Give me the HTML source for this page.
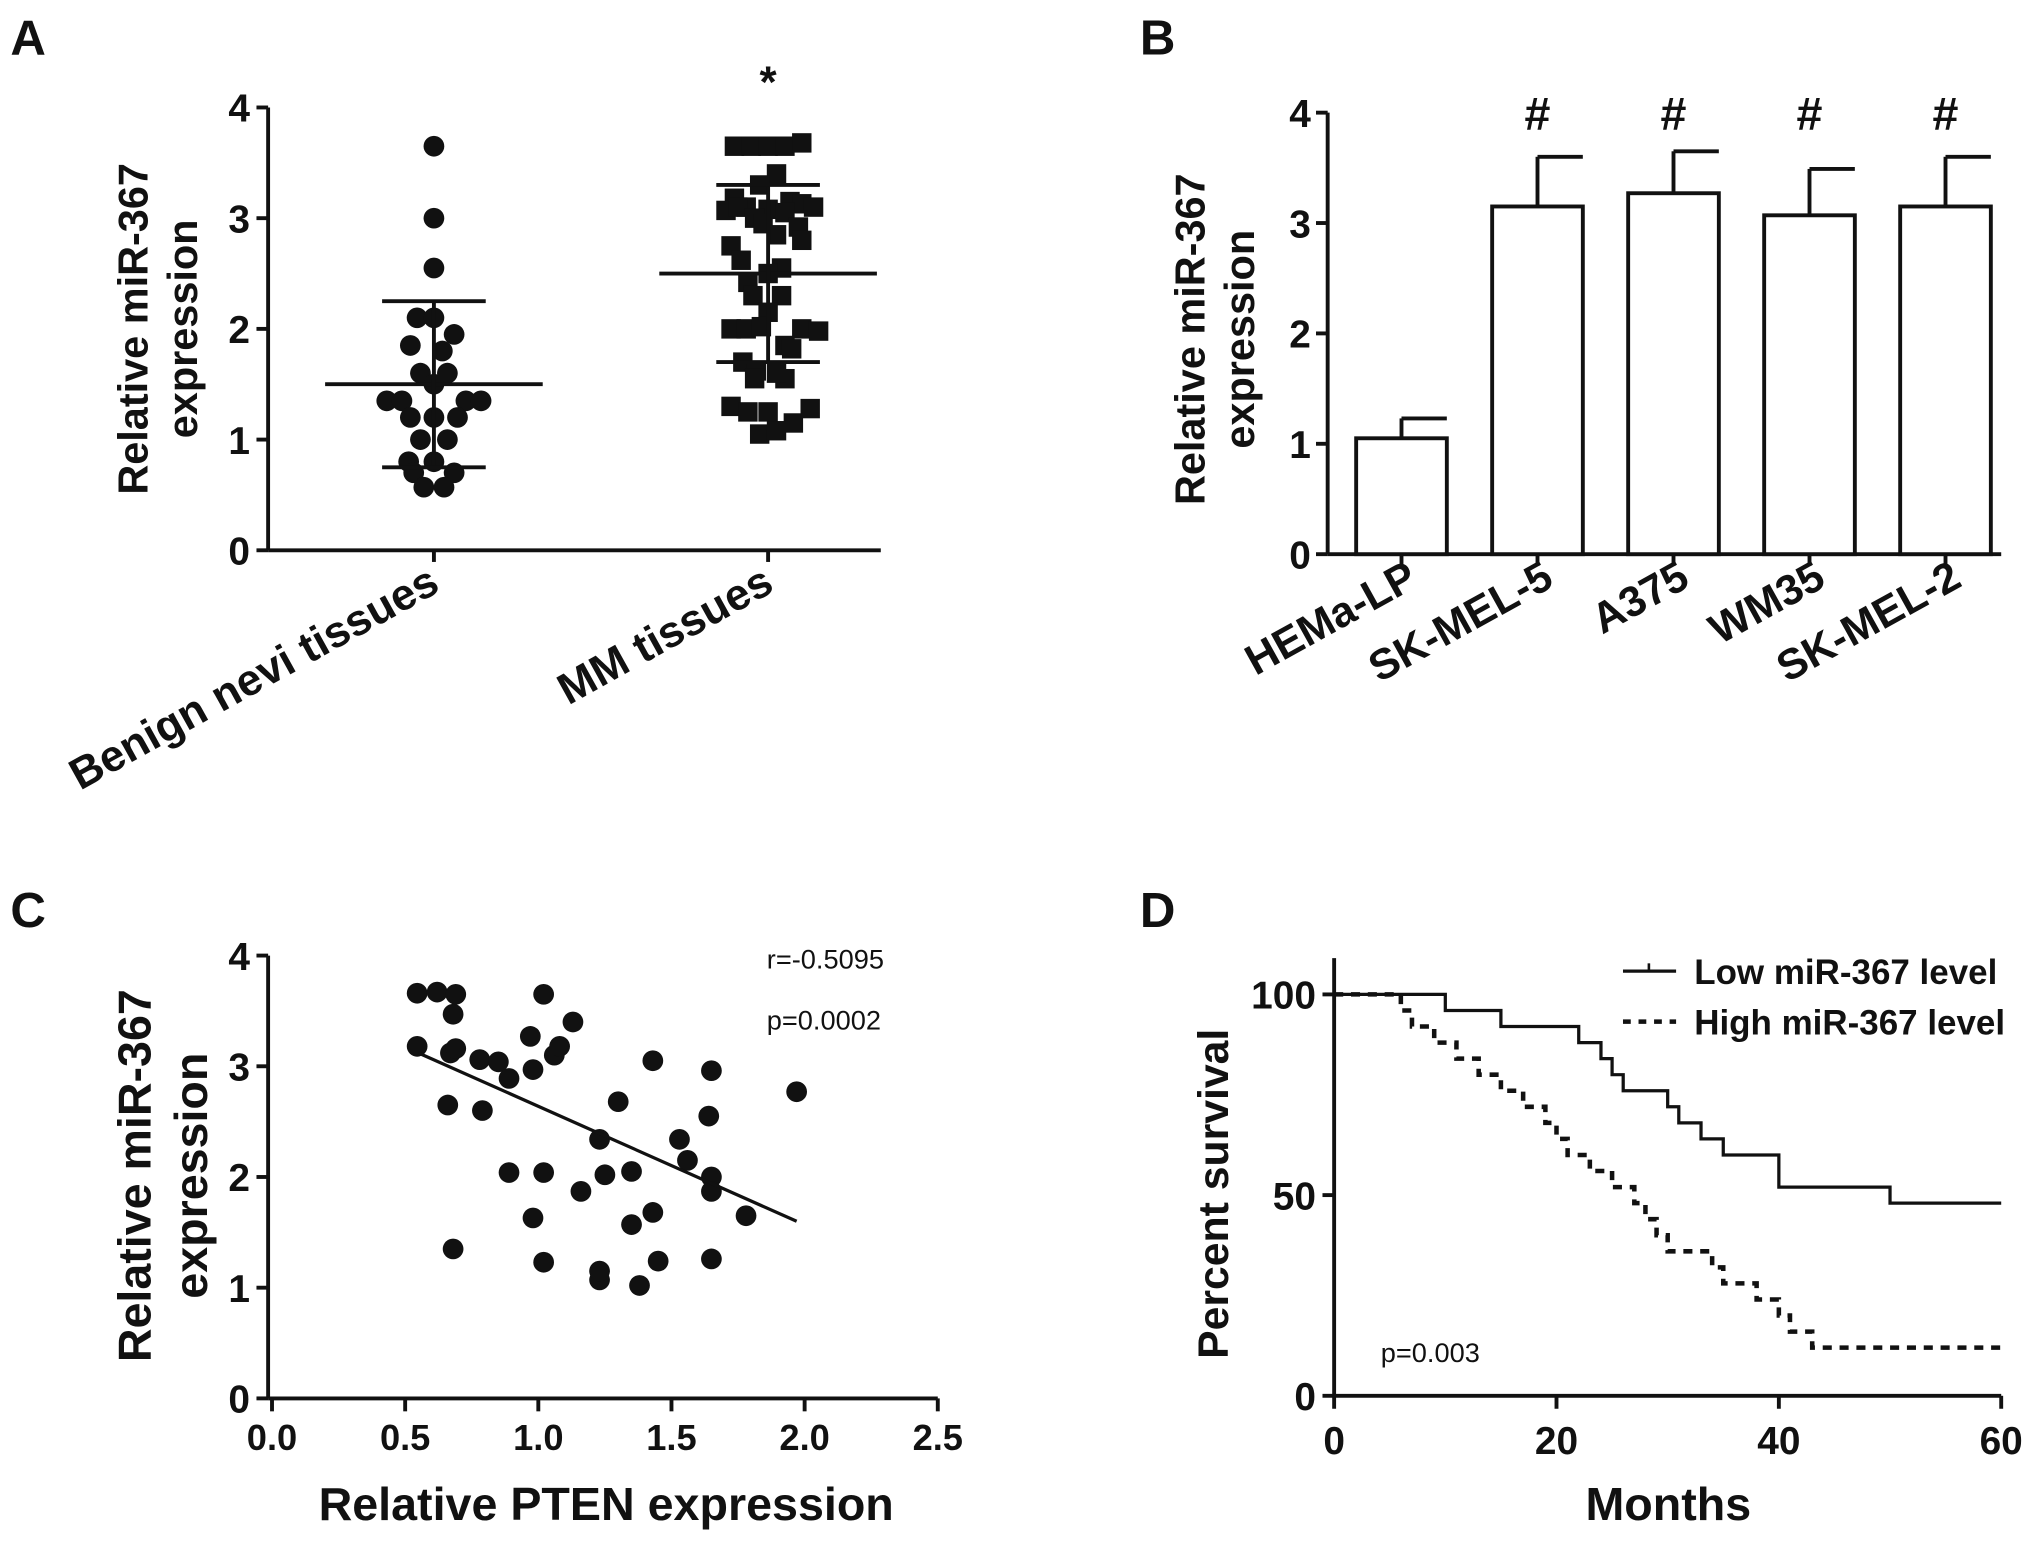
<!DOCTYPE html>
<html><head><meta charset="utf-8"><style>
html,body{margin:0;padding:0;background:#fff}
svg{display:block}
text{font-family:"Liberation Sans",Arial,sans-serif;font-weight:bold;fill:#111}
</style></head><body>
<svg id="fig" width="2031" height="1546" viewBox="0 0 1568 1194" preserveAspectRatio="none">
<g id="gA"></g>
<g id="gB"></g>
<g id="gC"></g>
<g id="gD"></g>
</svg>
<script>
// Panel A data
const benignVals=[3.65,3.0,2.55,2.1,2.1,1.95,1.85,1.8,1.6,1.6,1.5,1.35,1.35,1.35,1.35,1.2,1.2,1.2,1.0,1.0,0.8,0.8,0.7,0.7,0.57,0.57];
const benignJit=[0,0,0,-0.1,0,0.12,-0.14,0.05,-0.08,0.08,0,-0.28,-0.19,0.19,0.28,-0.14,0,0.14,-0.08,0.08,-0.15,0,0.12,-0.12,-0.06,0.06];
const mmVals=[3.65,3.65,3.65,3.65,3.68,3.4,3.3,3.18,3.15,3.13,3.1,3.08,3.05,3.07,3.1,3.1,3.0,2.95,2.92,2.85,2.8,2.75,2.62,2.55,2.5,2.42,2.3,2.3,2.15,2.0,2.0,2.0,1.98,2.02,1.85,1.82,1.7,1.62,1.55,1.55,1.6,1.3,1.25,1.15,1.05,1.08,1.25,1.28];
const mmJit=[-0.2,-0.1,0,0.1,0.2,0.05,-0.05,-0.2,0.13,0.2,-0.13,0,0.1,-0.25,-0.18,0.27,-0.08,-0.03,0.18,0.05,0.2,-0.22,-0.16,0.08,0,-0.12,-0.09,0.08,0,-0.22,-0.13,0.2,0.3,-0.04,0.1,0.14,-0.15,-0.07,0.1,-0.08,0.05,-0.22,0,0.15,-0.05,0.05,-0.12,0.25];
const aCats=["Benign nevi tissues","MM tissues"];
const aMean=[1.5,2.5], aSD=[0.75,0.8];
const aTicks=[0,1,2,3,4];
// Panel B data
const bCats=["HEMa-LP","SK-MEL-5","A375","WM35","SK-MEL-2"];
const bVals=[1.05,3.15,3.27,3.07,3.15];
const bErr=[0.18,0.45,0.38,0.42,0.45];
// Panel C data
const cX=[0.545,0.62,0.69,0.68,0.545,0.67,0.69,0.78,0.85,0.89,0.98,0.97,1.02,1.06,1.08,1.13,0.66,0.79,0.89,1.02,0.98,1.02,1.16,1.23,1.25,1.30,1.35,1.23,1.23,1.38,1.45,1.43,1.35,1.43,1.53,1.56,1.65,1.64,1.65,1.65,1.65,1.78,1.97,0.68];
const cY=[3.66,3.67,3.65,3.47,3.18,3.12,3.16,3.06,3.04,2.89,2.97,3.27,3.65,3.10,3.18,3.40,2.65,2.60,2.04,2.04,1.63,1.23,1.87,2.34,2.02,2.68,1.57,1.07,1.15,1.02,1.24,1.68,2.05,3.05,2.34,2.15,2.96,2.55,2.0,1.87,1.26,1.65,2.77,1.35];
const cFit=[[0.55,3.12],[1.97,1.6]];
const cXTicks=[0,0.5,1.0,1.5,2.0,2.5];
// Panel D data
const lowT=[0,10,15,22,24,25,26,30,31,33,35,40,50,60];
const lowS=[100,96,92,88,84,80,76,72,68,64,60,52,48,48];
const highT=[0,6,7,9,11,13,15,17,19,20,21,23,25,27,28,29,30,34,35,38,40,41,43,46,60];
const highS=[100,96,92,88,84,80,76,72,68,64,60,56,52,48,44,40,36,32,28,24,20,16,12,12,12];
const dXTicks=[0,20,40,60], dYTicks=[0,50,100];

const NS="http://www.w3.org/2000/svg";
function mk(parent,tag,attrs,txt){const e=document.createElementNS(NS,tag);for(const k in attrs)e.setAttribute(k,attrs[k]);if(txt!==undefined)e.textContent=txt;parent.appendChild(e);return e;}
const LW=3;

// ---------- Panel A ----------
(function(){
const g=document.getElementById('gA');
const y=v=>425-v*85.5, cx=[335,593], sp=130;
let t=mk(g,'text',{x:8,y:42,'font-size':38},'A');


let ax=mk(g,'line',{x1:207,y1:y(4),x2:207,y2:425,stroke:'#111','stroke-width':LW});


let xa=mk(g,'line',{x1:207,y1:425,x2:680,y2:425,stroke:'#111','stroke-width':LW});


aTicks.forEach(v=>{mk(g,'line',{x1:198,y1:y(v),x2:207,y2:y(v),stroke:'#111','stroke-width':LW});
 let l=mk(g,'text',{x:193,y:y(v)+11,'font-size':30,'text-anchor':'end'},String(v));
 
 });
let yt=mk(g,'text',{transform:'translate(118,254) rotate(-90)','font-size':32,'text-anchor':'middle'});


mk(yt,'tspan',{x:0,dy:-4},'Relative miR-367');mk(yt,'tspan',{x:0,dy:38},'expression');
aCats.forEach((c,i)=>{mk(g,'line',{x1:cx[i],y1:425,x2:cx[i],y2:434,stroke:'#111','stroke-width':LW});
 let l=mk(g,'text',{transform:`translate(${cx[i]+6},456) rotate(-29)`,'font-size':34,'text-anchor':'end'},c);
 
 });
benignVals.forEach((v,i)=>{let p=mk(g,'circle',{cx:cx[0]+benignJit[i]*sp,cy:y(v),r:8,fill:'#111'});
 
 });
mmVals.forEach((v,i)=>{let p=mk(g,'rect',{x:cx[1]+mmJit[i]*sp-7.5,y:y(v)-7.5,width:15,height:15,fill:'#111'});
 
 });
[0,1].forEach(i=>{const m=aMean[i],s=aSD[i];
 mk(g,'line',{x1:cx[i]-84,y1:y(m),x2:cx[i]+84,y2:y(m),stroke:'#111','stroke-width':LW});
 mk(g,'line',{x1:cx[i],y1:y(m+s),x2:cx[i],y2:y(m-s),stroke:'#111','stroke-width':LW});
 mk(g,'line',{x1:cx[i]-40,y1:y(m+s),x2:cx[i]+40,y2:y(m+s),stroke:'#111','stroke-width':LW});
 mk(g,'line',{x1:cx[i]-40,y1:y(m-s),x2:cx[i]+40,y2:y(m-s),stroke:'#111','stroke-width':LW});});
let st=mk(g,'text',{x:593,y:75,'font-size':34,'text-anchor':'middle'},'*');


})();

// ---------- Panel B ----------
(function(){
const g=document.getElementById('gB');
const y=v=>428-v*85.25, x0=1025, step=105, bw=70;
let t=mk(g,'text',{x:880,y:42,'font-size':38},'B');


mk(g,'line',{x1:x0,y1:y(4),x2:x0,y2:428,stroke:'#111','stroke-width':LW});
mk(g,'line',{x1:x0,y1:428,x2:1545,y2:428,stroke:'#111','stroke-width':LW});
aTicks.forEach(v=>{mk(g,'line',{x1:x0-9,y1:y(v),x2:x0,y2:y(v),stroke:'#111','stroke-width':LW});
 let l=mk(g,'text',{x:x0-13,y:y(v)+11,'font-size':30,'text-anchor':'end'},String(v));
 
 });
let yt=mk(g,'text',{transform:'translate(934,262) rotate(-90)','font-size':32,'text-anchor':'middle'});


mk(yt,'tspan',{x:0,dy:-4},'Relative miR-367');mk(yt,'tspan',{x:0,dy:38},'expression');
bCats.forEach((c,i)=>{const cx=1082+i*step;
 let b=mk(g,'rect',{x:cx-bw/2,y:y(bVals[i]),width:bw,height:428-y(bVals[i]),fill:'#fff',stroke:'#111','stroke-width':LW});
 
 
 mk(g,'line',{x1:cx,y1:y(bVals[i]),x2:cx,y2:y(bVals[i]+bErr[i]),stroke:'#111','stroke-width':LW});
 mk(g,'line',{x1:cx,y1:y(bVals[i]+bErr[i]),x2:cx+35,y2:y(bVals[i]+bErr[i]),stroke:'#111','stroke-width':LW});
 mk(g,'line',{x1:cx,y1:428,x2:cx,y2:437,stroke:'#111','stroke-width':LW});
 let l=mk(g,'text',{transform:`translate(${cx+14},452) rotate(-29)`,'font-size':33,'text-anchor':'end'},c);
 
 
 if(i>0){let h=mk(g,'text',{x:cx,y:100,'font-size':36,'text-anchor':'middle'},'#');
  
  }});
})();

// ---------- Panel C ----------
(function(){
const g=document.getElementById('gC');
const y=v=>1080-v*85.5, x=v=>210+v*205.6;
let t=mk(g,'text',{x:8,y:716,'font-size':38},'C');


mk(g,'line',{x1:207,y1:y(4),x2:207,y2:1080,stroke:'#111','stroke-width':LW});
mk(g,'line',{x1:207,y1:1080,x2:x(2.5),y2:1080,stroke:'#111','stroke-width':LW});
aTicks.forEach(v=>{mk(g,'line',{x1:198,y1:y(v),x2:207,y2:y(v),stroke:'#111','stroke-width':LW});
 let l=mk(g,'text',{x:193,y:y(v)+11,'font-size':30,'text-anchor':'end'},String(v));
 
 });
cXTicks.forEach(v=>{mk(g,'line',{x1:x(v),y1:1080,x2:x(v),y2:1090,stroke:'#111','stroke-width':LW});
 let l=mk(g,'text',{x:x(v),y:1120,'font-size':28,'text-anchor':'middle'},v.toFixed(1));
 
 });
let yt=mk(g,'text',{transform:'translate(118,908) rotate(-90)','font-size':36,'text-anchor':'middle'});


mk(yt,'tspan',{x:0,dy:-2},'Relative miR-367');mk(yt,'tspan',{x:0,dy:44},'expression');
let xt=mk(g,'text',{x:468,y:1174,'font-size':36,'text-anchor':'middle'},'Relative PTEN expression');


cX.forEach((v,i)=>{let p=mk(g,'circle',{cx:x(v),cy:y(cY[i]),r:8,fill:'#111'});
 
 });
let f=mk(g,'line',{x1:x(cFit[0][0]),y1:y(cFit[0][1]),x2:x(cFit[1][0]),y2:y(cFit[1][1]),stroke:'#111','stroke-width':2.5});


let r=mk(g,'text',{x:592,y:748,'font-size':21},'r=-0.5095');


r.style.fontWeight='normal';
let p=mk(g,'text',{x:592,y:795,'font-size':21},'p=0.0002');


p.style.fontWeight='normal';
})();

// ---------- Panel D ----------
(function(){
const g=document.getElementById('gD');
const x=v=>1030+v*(515/60), y=v=>1078-v*3.1;
let t=mk(g,'text',{x:880,y:716,'font-size':38},'D');


mk(g,'line',{x1:1030,y1:740,x2:1030,y2:1078,stroke:'#111','stroke-width':LW});
mk(g,'line',{x1:1030,y1:1078,x2:x(60),y2:1078,stroke:'#111','stroke-width':LW});
dYTicks.forEach(v=>{mk(g,'line',{x1:1021,y1:y(v),x2:1030,y2:y(v),stroke:'#111','stroke-width':LW});
 let l=mk(g,'text',{x:1016,y:y(v)+11,'font-size':30,'text-anchor':'end'},String(v));
 
 });
dXTicks.forEach(v=>{mk(g,'line',{x1:x(v),y1:1078,x2:x(v),y2:1088,stroke:'#111','stroke-width':LW});
 let l=mk(g,'text',{x:x(v),y:1123,'font-size':30,'text-anchor':'middle'},String(v));
 
 });
let yt=mk(g,'text',{transform:'translate(948,922) rotate(-90)','font-size':33,'text-anchor':'middle'},'Percent survival');


let xt=mk(g,'text',{x:1288,y:1174,'font-size':36,'text-anchor':'middle'},'Months');


function stepPath(T,S){let d=`M${x(T[0])},${y(S[0])}`;for(let i=1;i<T.length;i++){d+=` H${x(T[i])} V${y(S[i])}`;}return d;}
let lo=mk(g,'path',{d:stepPath(lowT,lowS),fill:'none',stroke:'#111','stroke-width':2.5});


let hi=mk(g,'path',{d:stepPath(highT,highS),fill:'none',stroke:'#111','stroke-width':3.5,'stroke-dasharray':'7,6'});


let le1=mk(g,'g',{});


mk(le1,'line',{x1:1253,y1:750,x2:1294,y2:750,stroke:'#111','stroke-width':2.5});
mk(le1,'line',{x1:1273,y1:744,x2:1273,y2:750,stroke:'#111','stroke-width':2});
mk(le1,'text',{x:1308,y:760,'font-size':27},'Low miR-367 level');
let le2=mk(g,'g',{});


mk(le2,'line',{x1:1253,y1:789,x2:1294,y2:789,stroke:'#111','stroke-width':3.5,'stroke-dasharray':'6,6'});
mk(le2,'text',{x:1308,y:799,'font-size':27},'High miR-367 level');
let p=mk(g,'text',{x:1066,y:1052,'font-size':21},'p=0.003');


p.style.fontWeight='normal';
})();
</script>
</body></html>
